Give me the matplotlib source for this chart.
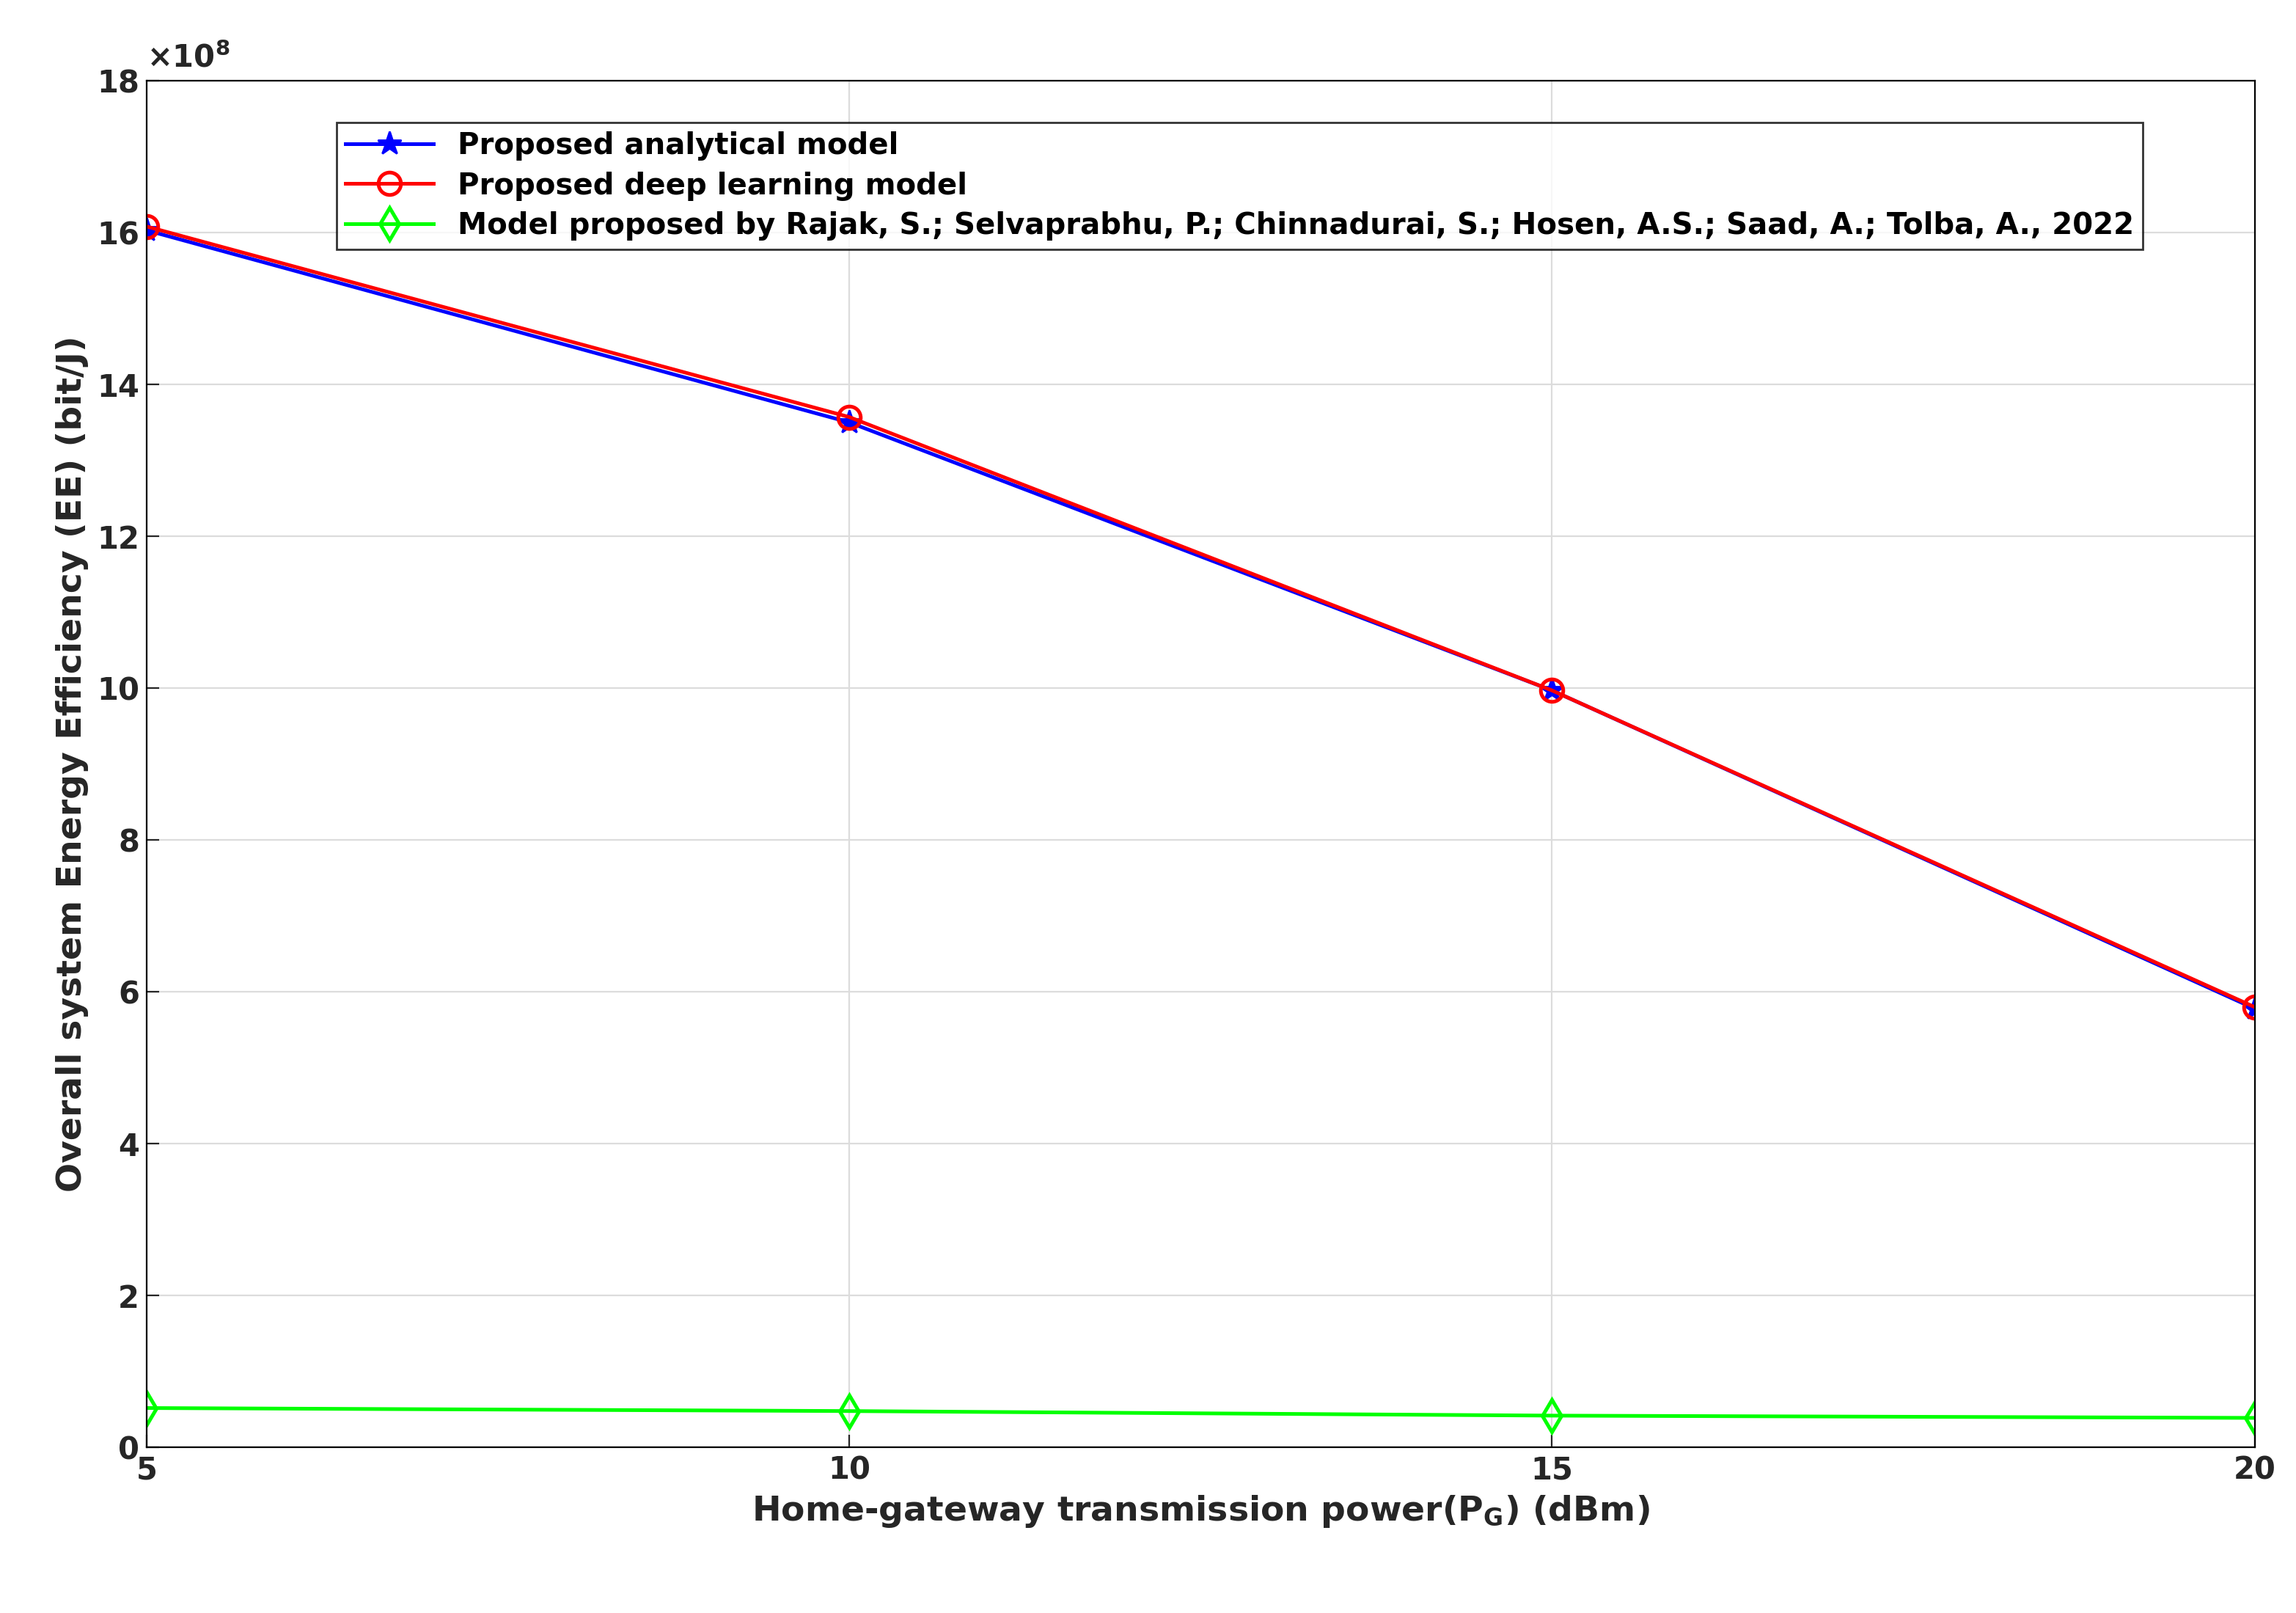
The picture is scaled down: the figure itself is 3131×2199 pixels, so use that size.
import matplotlib
matplotlib.use("Agg")
import matplotlib.pyplot as plt

x = [5, 10, 15, 20]
analytical = [16.03e8, 13.50e8, 9.97e8, 5.78e8]
deep = [16.08e8, 13.57e8, 9.97e8, 5.80e8]
rajak = [0.52e8, 0.48e8, 0.42e8, 0.39e8]
labels = ["Proposed analytical model", "Proposed deep learning model",
          "Model proposed by Rajak, S.; Selvaprabhu, P.; Chinnadurai, S.; Hosen, A.S.; Saad, A.; Tolba, A., 2022"]

plt.rcParams['font.family'] = ['DejaVu Sans']
plt.rcParams['font.weight'] = 'bold'
fig = plt.figure(figsize=(15.655, 10.995), dpi=200)
ax = fig.add_axes([0.0638, 0.1026, 0.9182, 0.8474])
ax.plot(x, analytical, color='#0000ff', marker='*', ms=12, lw=1.8, label=labels[0])
ax.plot(x, deep, color='#ff0000', marker='o', ms=11, mfc='none', mew=1.8, lw=1.8, label=labels[1])
ax.plot(x, rajak, color='#00ff00', marker='d', ms=11, mfc='none', mew=1.8, lw=1.8, label=labels[2])
ax.set_xlim(5, 20)
ax.set_ylim(0, 18e8)
ax.set_xticks([5, 10, 15, 20])
ax.set_yticks([i * 2e8 for i in range(10)])
ax.set_yticklabels([str(i * 2) for i in range(10)])
ax.text(0.0, 1.005, r'$\times10^8$', transform=ax.transAxes, fontsize=15, va='bottom', ha='left', color='#262626')
ax.grid(True, color='#dcdcdc', lw=0.8)
ax.tick_params(labelsize=15, colors='#262626', direction='in', length=6)
for lab in ax.get_xticklabels() + ax.get_yticklabels():
    lab.set_fontweight('bold')
ax.set_xlabel(r'Home-gateway transmission power(P$_\mathbf{G}$) (dBm)', fontsize=17, fontweight='bold', color='#262626')
ax.set_ylabel('Overall system Energy Efficiency (EE) (bit/J)', fontsize=17, fontweight='bold', color='#262626')
leg = ax.legend(loc='upper left', bbox_to_anchor=(0.083, 0.98), fontsize=14.5, frameon=True, fancybox=False,
                edgecolor='black', borderpad=0.3, labelspacing=0.35, handlelength=3)
leg.get_frame().set_linewidth(1.0)
for t in leg.get_texts():
    t.set_fontweight('bold')
fig.savefig('out.png', dpi=200)
